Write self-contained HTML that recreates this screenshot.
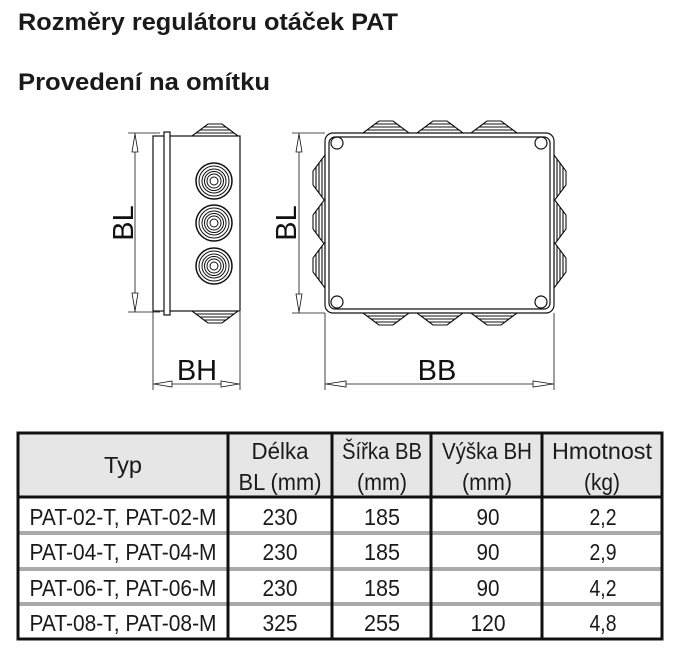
<!DOCTYPE html>
<html><head><meta charset="utf-8"><style>
html,body{margin:0;padding:0;background:#fff;}
svg{display:block}
</style></head><body>
<svg width="693" height="652" viewBox="0 0 693 652" xmlns="http://www.w3.org/2000/svg" font-family="Liberation Sans, sans-serif">
<defs>
<g id="gl" fill="#fff" stroke="#111" stroke-width="1.1">
<path d="M-23,0 L-19,-3 L-15,-6 L-11,-9 L-7,-12 L7,-12 L11,-9 L15,-6 L19,-3 L23,0Z"/>
<path d="M-19,-3 H19 M-15,-6 H15 M-11,-9 H11" fill="none"/>
</g>
<g id="ring" fill="none" stroke="#111" stroke-width="1">
<circle r="18" stroke-width="1.5"/><circle r="15"/><circle r="12"/><circle r="9.5"/><circle r="7"/><circle r="4" fill="#fff"/>
</g>
</defs>
<text x="18" y="30" font-size="24" font-weight="bold" fill="#1a1a1a" textLength="380" lengthAdjust="spacingAndGlyphs">Rozměry regulátoru otáček PAT</text>
<text x="18" y="90" font-size="24" font-weight="bold" fill="#1a1a1a" textLength="252" lengthAdjust="spacingAndGlyphs">Provedení na omítku</text>

<!-- left view -->
<g stroke="#111" fill="none" stroke-width="1.2">
<use href="#gl" transform="translate(215,136)"/>
<use href="#gl" transform="translate(215,311) scale(1,-1)"/>
<rect x="153" y="136" width="87" height="175" fill="#fff"/>
<rect x="164" y="132" width="6" height="183" fill="#fff"/>
<line x1="128" y1="133" x2="160" y2="133" stroke-width="0.8"/>
<line x1="128" y1="312" x2="160" y2="312" stroke-width="0.8"/>
<line x1="135" y1="133" x2="135" y2="312" stroke-width="0.8"/>
<path d="M135,134 L132,152 L138,152Z M135,311 L132,293 L138,293Z" stroke-width="0.8" fill="#fff"/>
<line x1="153" y1="312" x2="153" y2="390" stroke-width="0.8"/>
<line x1="240" y1="312" x2="240" y2="390" stroke-width="0.8"/>
<line x1="153" y1="384" x2="240" y2="384" stroke-width="0.8"/>
<path d="M154,384 L172,381 L172,387Z M239,384 L221,381 L221,387Z" stroke-width="0.8" fill="#fff"/>
</g>
<use href="#ring" transform="translate(214,181)"/>
<use href="#ring" transform="translate(214,223)"/>
<use href="#ring" transform="translate(214,266)"/>
<text x="0" y="0" font-size="29" fill="#111" text-anchor="middle" transform="translate(133,223) rotate(-90)">BL</text>
<text x="197" y="380" font-size="29" fill="#111" text-anchor="middle">BH</text>

<!-- right view -->
<g stroke="#111" fill="none" stroke-width="1.2">
<use href="#gl" transform="translate(386,133)"/>
<use href="#gl" transform="translate(440,133)"/>
<use href="#gl" transform="translate(494,133)"/>
<use href="#gl" transform="translate(386,313) scale(1,-1)"/>
<use href="#gl" transform="translate(440,313) scale(1,-1)"/>
<use href="#gl" transform="translate(494,313) scale(1,-1)"/>
<use href="#gl" transform="translate(325,178) rotate(-90)"/>
<use href="#gl" transform="translate(325,222) rotate(-90)"/>
<use href="#gl" transform="translate(325,265) rotate(-90)"/>
<use href="#gl" transform="translate(554,178) rotate(90)"/>
<use href="#gl" transform="translate(554,222) rotate(90)"/>
<use href="#gl" transform="translate(554,265) rotate(90)"/>
<rect x="325" y="133" width="229" height="180" rx="8" fill="#fff"/>
<rect x="329" y="137" width="221" height="172" rx="6"/>
<circle cx="337" cy="143" r="6"/><circle cx="541" cy="143" r="6"/>
<circle cx="337" cy="302" r="6"/><circle cx="541" cy="302" r="6"/>
<line x1="292" y1="133" x2="325" y2="133" stroke-width="0.8"/>
<line x1="292" y1="313" x2="325" y2="313" stroke-width="0.8"/>
<line x1="299" y1="133" x2="299" y2="313" stroke-width="0.8"/>
<path d="M299,134 L296,152 L302,152Z M299,312 L296,294 L302,294Z" stroke-width="0.8" fill="#fff"/>
<line x1="325" y1="313" x2="325" y2="390" stroke-width="0.8"/>
<line x1="554" y1="313" x2="554" y2="390" stroke-width="0.8"/>
<line x1="325" y1="384" x2="554" y2="384" stroke-width="0.8"/>
<path d="M326,384 L346,381 L346,387Z M553,384 L533,381 L533,387Z" stroke-width="0.8" fill="#fff"/>
</g>
<text font-size="29" fill="#111" text-anchor="middle" transform="translate(296,223) rotate(-90)">BL</text>
<text x="437" y="380" font-size="29" fill="#111" text-anchor="middle">BB</text>

<!-- table -->
<rect x="18" y="433" width="644" height="64" fill="#e6e6e6"/>
<g stroke="#aaa" stroke-width="4">
<line x1="18" y1="533" x2="662" y2="533"/>
<line x1="18" y1="569" x2="662" y2="569"/>
<line x1="18" y1="604" x2="662" y2="604"/>
</g>
<g stroke="#111" stroke-width="3">
<line x1="18" y1="497" x2="662" y2="497"/>
<line x1="228" y1="433" x2="228" y2="639"/>
<line x1="332" y1="433" x2="332" y2="639"/>
<line x1="431" y1="433" x2="431" y2="639"/>
<line x1="542" y1="433" x2="542" y2="639"/>
</g>
<rect x="18" y="433" width="644" height="206" fill="none" stroke="#111" stroke-width="3"/>
<g font-size="23" fill="#1a1a1a" text-anchor="middle">
<text x="123" y="473" textLength="38" lengthAdjust="spacingAndGlyphs">Typ</text>
<text x="280" y="459" textLength="57" lengthAdjust="spacingAndGlyphs">Délka</text><text x="280" y="490" textLength="83" lengthAdjust="spacingAndGlyphs">BL (mm)</text>
<text x="382" y="459" textLength="80" lengthAdjust="spacingAndGlyphs">Šířka BB</text><text x="382" y="490" textLength="50" lengthAdjust="spacingAndGlyphs">(mm)</text>
<text x="487" y="459" textLength="90" lengthAdjust="spacingAndGlyphs">Výška BH</text><text x="487" y="490" textLength="50" lengthAdjust="spacingAndGlyphs">(mm)</text>
<text x="602" y="459" textLength="100" lengthAdjust="spacingAndGlyphs">Hmotnost</text><text x="602" y="490" textLength="36" lengthAdjust="spacingAndGlyphs">(kg)</text>
</g>
<g font-size="23" fill="#1a1a1a" text-anchor="middle">
<text x="123" y="525" textLength="187" lengthAdjust="spacingAndGlyphs">PAT-02-T, PAT-02-M</text>
<text x="123" y="560" textLength="187" lengthAdjust="spacingAndGlyphs">PAT-04-T, PAT-04-M</text>
<text x="123" y="596" textLength="187" lengthAdjust="spacingAndGlyphs">PAT-06-T, PAT-06-M</text>
<text x="123" y="631" textLength="187" lengthAdjust="spacingAndGlyphs">PAT-08-T, PAT-08-M</text>
<text x="280" y="525" textLength="35" lengthAdjust="spacingAndGlyphs">230</text><text x="280" y="560" textLength="35" lengthAdjust="spacingAndGlyphs">230</text><text x="280" y="596" textLength="35" lengthAdjust="spacingAndGlyphs">230</text><text x="280" y="631" textLength="35" lengthAdjust="spacingAndGlyphs">325</text>
<text x="382" y="525" textLength="36" lengthAdjust="spacingAndGlyphs">185</text><text x="382" y="560" textLength="36" lengthAdjust="spacingAndGlyphs">185</text><text x="382" y="596" textLength="36" lengthAdjust="spacingAndGlyphs">185</text><text x="382" y="631" textLength="36" lengthAdjust="spacingAndGlyphs">255</text>
<text x="488" y="525" textLength="23" lengthAdjust="spacingAndGlyphs">90</text><text x="488" y="560" textLength="23" lengthAdjust="spacingAndGlyphs">90</text><text x="488" y="596" textLength="23" lengthAdjust="spacingAndGlyphs">90</text><text x="488" y="631" textLength="35" lengthAdjust="spacingAndGlyphs">120</text>
<text x="603" y="525" textLength="27" lengthAdjust="spacingAndGlyphs">2,2</text><text x="603" y="560" textLength="27" lengthAdjust="spacingAndGlyphs">2,9</text><text x="603" y="596" textLength="27" lengthAdjust="spacingAndGlyphs">4,2</text><text x="603" y="631" textLength="27" lengthAdjust="spacingAndGlyphs">4,8</text>
</g>
</svg>
</body></html>
